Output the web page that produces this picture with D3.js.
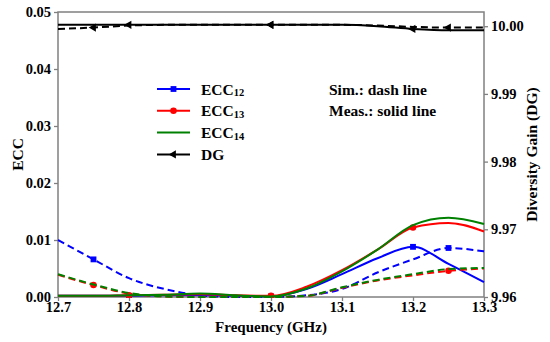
<!DOCTYPE html>
<html>
<head>
<meta charset="utf-8">
<script src="https://cdn.jsdelivr.net/npm/d3@7"></script>
<style>
  body { margin: 0; background: #fff; }
  svg text { font-family: "Liberation Serif", "Times New Roman", serif; font-weight: bold; fill: #000; }
</style>
</head>
<body>
<div id="chart"></div>
<script>
// Frequency samples (GHz)
const freq = [12.7, 12.75, 12.8, 12.85, 12.9, 12.95, 13.0, 13.05, 13.1, 13.15, 13.2, 13.25, 13.3];

// Measured (solid)
const ecc12Meas = [0.0002, 0.0002, 0.0002, 0.0003, 0.0003, 0.0002, 0.0001, 0.0014, 0.0040, 0.0068, 0.0088, 0.0058, 0.0026];
const ecc13Meas = [0.0002, 0.0002, 0.0003, 0.0004, 0.0005, 0.0003, 0.0002, 0.0018, 0.0047, 0.0083, 0.0122, 0.0130, 0.0115];
const ecc14Meas = [0.0002, 0.0002, 0.0003, 0.0004, 0.0006, 0.0003, 0.0001, 0.0015, 0.0045, 0.0083, 0.0126, 0.0139, 0.0128];
const dgMeas = [10.0002, 10.0002, 10.0002, 10.0002, 10.0002, 10.0002, 10.0002, 10.0002, 10.0002, 10.0000, 9.9996, 9.9994, 9.9994];

// Simulated (dashed)
const ecc12Sim = [0.0100, 0.0066, 0.0033, 0.0014, 0.0003, 0.0000, 0.0000, 0.0003, 0.0014, 0.0043, 0.0066, 0.0086, 0.0080];
const ecc13Sim = [0.0039, 0.0021, 0.0006, 0.0001, 0.0000, 0.0000, 0.0000, 0.0002, 0.0016, 0.0029, 0.0038, 0.0046, 0.0050];
const ecc14Sim = [0.0040, 0.0022, 0.0007, 0.0001, 0.0000, 0.0000, 0.0000, 0.0002, 0.0017, 0.0030, 0.0040, 0.0049, 0.0051];
const dgSim = [9.9996, 9.9998, 10.0001, 10.0002, 10.0002, 10.0002, 10.0002, 10.0002, 10.0002, 10.0001, 9.9999, 9.9998, 9.9998];

// Marker positions
const measMarks = [12.8, 13.0, 13.2];
const simMarks = [12.75, 13.0, 13.25];

const xTicks = [12.7, 12.8, 12.9, 13.0, 13.1, 13.2, 13.3];
const yTicks = [0, 0.01, 0.02, 0.03, 0.04, 0.05];
const y2Ticks = [9.96, 9.97, 9.98, 9.99, 10.00];

const legendItems = [
  { name: "ECC", sub: "12", color: "#0000ff", marker: "square" },
  { name: "ECC", sub: "13", color: "#ff0000", marker: "circle" },
  { name: "ECC", sub: "14", color: "#008000", marker: null },
  { name: "DG", sub: "", color: "#000000", marker: "triangle" }
];

const serif = '"Liberation Serif", "Times New Roman", serif';

const width = 550, height = 342;
const margin = { top: 12, right: 66, bottom: 45, left: 58 };
const innerW = width - margin.left - margin.right;
const innerH = height - margin.top - margin.bottom;

const svg = d3.select("#chart").append("svg")
  .attr("width", width)
  .attr("height", height);

const g = svg.append("g").attr("transform", `translate(${margin.left},${margin.top})`);

const x = d3.scaleLinear().domain([12.7, 13.3]).range([0, innerW]);
const y = d3.scaleLinear().domain([0, 0.05]).range([innerH, 0]);
// right axis: 9.96 at bottom, 10.00 sits a little below the top
const y2 = d3.scaleLinear().domain([9.96, 10.0021]).range([innerH, 0]);

const frameColor = "#808080";

// axes
const xAxis = g.append("g")
  .attr("transform", `translate(0,${innerH})`)
  .call(d3.axisBottom(x).tickValues(xTicks).tickFormat(d3.format(".1f")).tickSize(4).tickPadding(1));
const yAxis = g.append("g")
  .call(d3.axisLeft(y).tickValues(yTicks).tickFormat(d3.format(".2f")).tickSize(4).tickPadding(3));
const y2Axis = g.append("g")
  .attr("transform", `translate(${innerW},0)`)
  .call(d3.axisRight(y2).tickValues(y2Ticks).tickFormat(d3.format(".2f")).tickSize(4).tickPadding(3));

[xAxis, yAxis, y2Axis].forEach(a => {
  a.attr("font-family", null).attr("font-size", null);
  a.select(".domain").remove();
  a.selectAll(".tick line").attr("stroke", frameColor).attr("stroke-width", 1.3);
  a.selectAll(".tick text")
    .style("font-size", "14.5px")
    .style("font-family", serif)
    .style("font-weight", "bold")
    .attr("fill", "#000");
});

// frame
g.append("rect")
  .attr("width", innerW).attr("height", innerH)
  .attr("fill", "none").attr("stroke", frameColor).attr("stroke-width", 1.5);

// clip
svg.append("defs").append("clipPath").attr("id", "clip")
  .append("rect").attr("x", -1).attr("y", -1).attr("width", innerW + 2).attr("height", innerH + 2);

const plot = g.append("g").attr("clip-path", "url(#clip)");

function symbolFor(kind) {
  if (kind === "square") return d3.symbol().type(d3.symbolSquare).size(34);
  if (kind === "circle") return d3.symbol().type(d3.symbolCircle).size(34);
  if (kind === "triangle") return d3.symbol().type(d3.symbolTriangle).size(30);
  return null;
}

function drawSeries(values, scale, color, dashed, marker, marks) {
  const data = freq.map((f, i) => ({ f, v: values[i] }));
  const line = d3.line()
    .x(d => x(d.f))
    .y(d => scale(d.v))
    .curve(d3.curveMonotoneX);
  plot.append("path")
    .datum(data)
    .attr("fill", "none")
    .attr("stroke", color)
    .attr("stroke-width", 2)
    .attr("stroke-dasharray", dashed ? "7,4" : null)
    .attr("d", line);
  const sym = symbolFor(marker);
  if (!sym) return;
  plot.selectAll(null)
    .data(data.filter(d => marks.some(m => Math.abs(m - d.f) < 1e-6)))
    .enter().append("path")
    .attr("d", sym)
    .attr("fill", color)
    .attr("transform", d => `translate(${x(d.f)},${scale(d.v)})` + (marker === "triangle" ? " rotate(-90)" : ""));
}

drawSeries(ecc12Meas, y, "#0000ff", false, "square", measMarks);
drawSeries(ecc12Sim, y, "#0000ff", true, "square", simMarks);
drawSeries(ecc13Meas, y, "#ff0000", false, "circle", measMarks);
drawSeries(ecc13Sim, y, "#ff0000", true, "circle", simMarks);
drawSeries(ecc14Meas, y, "#008000", false, null, measMarks);
drawSeries(ecc14Sim, y, "#008000", true, null, simMarks);
drawSeries(dgMeas, y2, "#000000", false, "triangle", measMarks);
drawSeries(dgSim, y2, "#000000", true, "triangle", simMarks);

// axis titles
svg.append("text")
  .attr("x", margin.left + innerW / 2)
  .attr("y", 332)
  .attr("text-anchor", "middle")
  .style("font-size", "15px")
  .text("Frequency (GHz)");

svg.append("text")
  .attr("transform", `translate(23,${margin.top + innerH / 2}) rotate(-90)`)
  .attr("text-anchor", "middle")
  .style("font-size", "15.5px")
  .text("ECC");

svg.append("text")
  .attr("transform", `translate(537,${margin.top + innerH / 2}) rotate(-90)`)
  .attr("text-anchor", "middle")
  .style("font-size", "15.5px")
  .text("Diversity Gain (DG)");

// legend
const legend = svg.append("g").attr("transform", "translate(157,89)");
legendItems.forEach((d, i) => {
  const row = legend.append("g").attr("transform", `translate(0,${i * 21.8})`);
  row.append("line")
    .attr("x1", 0).attr("x2", 33)
    .attr("stroke", d.color).attr("stroke-width", 2);
  const sym = symbolFor(d.marker);
  if (sym) {
    row.append("path")
      .attr("d", sym)
      .attr("fill", d.color)
      .attr("transform", `translate(16.5,0)` + (d.marker === "triangle" ? " rotate(-90)" : ""));
  }
  const t = row.append("text")
    .attr("x", 44).attr("y", 5.5)
    .style("font-size", "15.5px");
  t.append("tspan").text(d.name);
  if (d.sub) {
    t.append("tspan").attr("dy", 1.5).style("font-size", "10.5px").text(d.sub);
  }
});

svg.append("text").attr("x", 329).attr("y", 95).style("font-size", "15.5px").text("Sim.: dash line");
svg.append("text").attr("x", 329).attr("y", 116).style("font-size", "15.5px").text("Meas.: solid line");
</script>
</body>
</html>
